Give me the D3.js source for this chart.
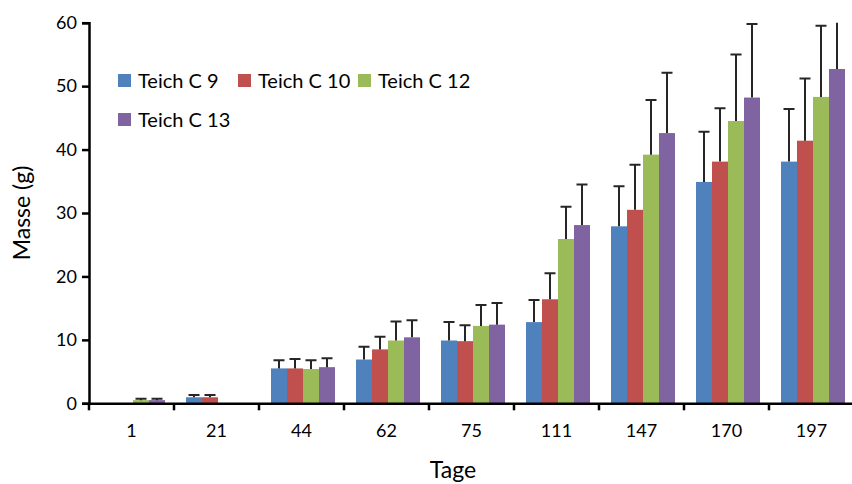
<!DOCTYPE html>
<html>
<head>
<meta charset="utf-8">
<script src="https://cdn.jsdelivr.net/npm/d3@7"></script>
<style>
  body { margin: 0; background: #fff; }
  svg { display: block; font-family: Lato, "Open Sans", sans-serif; }
</style>
</head>
<body>
<div id="chart"></div>
<script>
const categories = ["1", "21", "44", "62", "75", "111", "147", "170", "197"];
const seriesNames = ["Teich C 9", "Teich C 10", "Teich C 12", "Teich C 13"];
const colors = ["#4F81BD", "#C0504D", "#9BBB59", "#8064A2"];

// mean mass per pond (null = no measurement)
const teichC9  = [null, 0.95, 5.5, 6.9, 9.9, 12.8, 27.9, 34.9, 38.1];
const teichC10 = [null, 0.95, 5.5, 8.5, 9.8, 16.4, 30.5, 38.1, 41.4];
const teichC12 = [0.5, null, 5.4, 9.9, 12.2, 25.9, 39.2, 44.5, 48.3];
const teichC13 = [0.5, null, 5.7, 10.4, 12.4, 28.1, 42.6, 48.2, 52.7];

// standard deviation (upper error bar)
const errC9  = [null, 0.35, 1.3, 2.0, 2.9, 3.5, 6.3, 7.9, 8.3];
const errC10 = [null, 0.35, 1.5, 2.0, 2.5, 4.1, 7.1, 8.4, 9.8];
const errC12 = [0.2, null, 1.4, 3.0, 3.3, 5.1, 8.6, 10.5, 11.2];
const errC13 = [0.2, null, 1.4, 2.7, 3.4, 6.4, 9.5, 11.6, 11.0];

const yTicks = [0, 10, 20, 30, 40, 50, 60];

const means = [teichC9, teichC10, teichC12, teichC13];
const errs = [errC9, errC10, errC12, errC13];

const rows = [];
categories.forEach((c, i) => {
  seriesNames.forEach((s, j) => {
    if (means[j][i] != null) {
      rows.push({ cat: c, series: s, idx: j, value: means[j][i], err: errs[j][i] });
    }
  });
});

const width = 852, height = 484;
const margin = { top: 22.7, right: -2, bottom: 80.7, left: 89 };

const svg = d3.select("#chart").append("svg")
  .attr("width", width)
  .attr("height", height);

const x = d3.scaleBand()
  .domain(categories)
  .range([margin.left, width - margin.right]);

const x1 = d3.scaleBand()
  .domain(seriesNames)
  .range([12, 76]);

const y = d3.scaleLinear()
  .domain([0, 60])
  .range([height - margin.bottom, margin.top]);

svg.append("clipPath").attr("id", "plot")
  .append("rect")
  .attr("x", 0).attr("y", margin.top)
  .attr("width", width).attr("height", height - margin.bottom - margin.top + 1);

// bars
svg.append("g").selectAll("rect")
  .data(rows)
  .join("rect")
  .attr("x", d => x(d.cat) + x1(d.series))
  .attr("width", x1.bandwidth())
  .attr("y", d => y(d.value))
  .attr("height", d => y(0) - y(d.value))
  .attr("fill", d => colors[d.idx]);

// error bars
const eb = svg.append("g")
  .attr("clip-path", "url(#plot)")
  .attr("stroke", "#262626")
  .attr("stroke-width", 2)
  .selectAll("g")
  .data(rows)
  .join("g");

eb.append("line")
  .attr("x1", d => x(d.cat) + x1(d.series) + x1.bandwidth() / 2)
  .attr("x2", d => x(d.cat) + x1(d.series) + x1.bandwidth() / 2)
  .attr("y1", d => y(d.value))
  .attr("y2", d => y(d.value + d.err));

eb.append("line")
  .attr("x1", d => x(d.cat) + x1(d.series) + x1.bandwidth() / 2 - 5.5)
  .attr("x2", d => x(d.cat) + x1(d.series) + x1.bandwidth() / 2 + 5.5)
  .attr("y1", d => y(d.value + d.err))
  .attr("y2", d => y(d.value + d.err));

// y axis
const yAxis = svg.append("g")
  .attr("transform", `translate(${margin.left},0)`)
  .call(d3.axisLeft(y).tickValues(yTicks).tickSize(7).tickPadding(5).tickFormat(d3.format("d")));
yAxis.select(".domain").attr("stroke", "#000").attr("stroke-width", 2.5);
yAxis.selectAll(".tick line").attr("stroke", "#000").attr("stroke-width", 2.5);
yAxis.selectAll("text").attr("font-size", 18).attr("fill", "#000").attr("font-family", "Lato");

// x axis
const xAxis = svg.append("g")
  .attr("transform", `translate(0,${y(0)})`)
  .call(d3.axisBottom(x).tickSize(0).tickPadding(21));
xAxis.select(".domain").attr("stroke", "#000").attr("stroke-width", 2.5);
xAxis.selectAll("text").attr("font-size", 18).attr("fill", "#000").attr("font-family", "Lato");

// category boundary ticks
xAxis.append("g").selectAll("line")
  .data(categories)
  .join("line")
  .attr("x1", d => x(d)).attr("x2", d => x(d))
  .attr("y1", 0).attr("y2", 7)
  .attr("stroke", "#000").attr("stroke-width", 2.5);

// axis titles
svg.append("text")
  .attr("transform", `translate(30,${(margin.top + y(0)) / 2}) rotate(-90)`)
  .attr("text-anchor", "middle")
  .attr("font-size", 23)
  .text("Masse (g)");

svg.append("text")
  .attr("x", 453)
  .attr("y", 478)
  .attr("text-anchor", "middle")
  .attr("font-size", 23)
  .text("Tage");

// legend
const legendPos = [[118, 74], [238, 74], [358, 74], [118, 113]];
const legend = svg.append("g").selectAll("g")
  .data(seriesNames)
  .join("g")
  .attr("transform", (d, i) => `translate(${legendPos[i][0]},${legendPos[i][1]})`);

legend.append("rect")
  .attr("width", 13).attr("height", 13)
  .attr("fill", (d, i) => colors[i]);

legend.append("text")
  .attr("x", 20)
  .attr("y", 14)
  .attr("font-size", 20)
  .text(d => d);
</script>
</body>
</html>
